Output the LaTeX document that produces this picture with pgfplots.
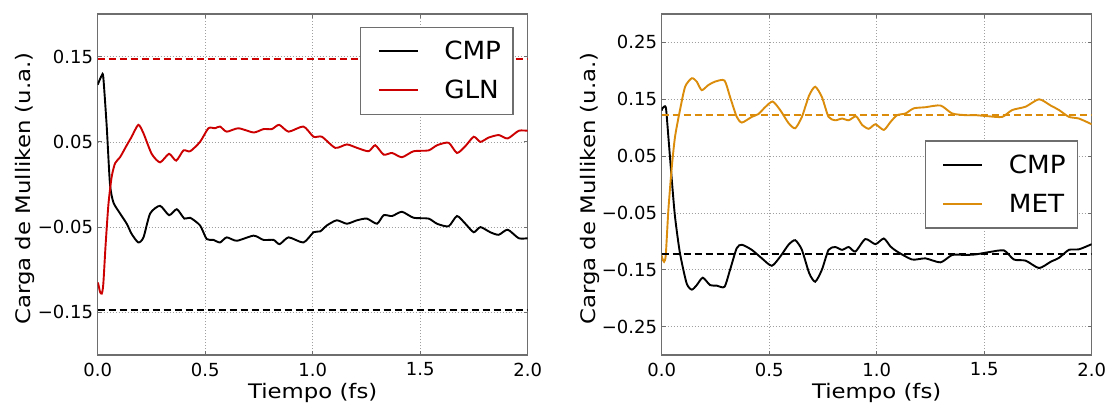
\documentclass[border=0pt]{standalone}
\usepackage{pgfplots}
\pgfplotsset{compat=1.18}
\usepackage{fontspec}
\setmainfont{DejaVu Sans}
\newfontfamily\labfamily[FakeStretch=1.14]{DejaVu Sans}
\newfontfamily\legfamily[FakeStretch=1.05]{DejaVu Sans}
\definecolor{mred}{RGB}{204,0,0}
\definecolor{morange}{RGB}{218,140,10}
\definecolor{frame}{RGB}{110,110,110}
\pgfplotsset{
 myaxis/.style={scale only axis, width=430bp, height=341bp, xmin=0, xmax=2,
  xtick={0,0.5,1,1.5,2}, xticklabels={0.0,0.5,1.0,1.5,2.0},
  grid=major, major grid style={gray!75, line width=0.7bp, dash pattern=on 0.7bp off 2.3bp},
  axis line style={frame, line width=1.3bp},
  tick style={frame, line width=0.8bp},
  tick align=inside, major tick length=4bp,
  ticklabel style={font=\fontsize{18bp}{21bp}\selectfont},
  yticklabel style={inner sep=0bp, xshift=-4.5bp},
  xticklabel style={inner sep=0bp, yshift=-7.5bp},
  label style={font=\labfamily\fontsize{20bp}{24bp}\selectfont},
  xlabel={Tiempo (fs)}, ylabel={Carga de Mulliken (u.a.)},
  xlabel style={at={(axis description cs:0.5,-0.128)}, anchor=base},
  ylabel style={at={(axis description cs:-0.1565,0.488)}, anchor=base},
  legend style={draw=frame, line width=1.3bp, fill=white,
    font=\legfamily\fontsize{25bp}{30bp}\selectfont,
    inner xsep=10bp, inner ysep=10bp, row sep=11bp,
    nodes={inner xsep=2bp, inner ysep=4bp}, column sep=0bp},
  legend cell align=left,
  legend image code/.code={\draw[#1, line width=1.9bp] (0bp,0bp) -- (39bp,0bp); \path[draw=none, fill=none] (-8bp,0bp) -- (63.5bp,0bp);},
 }
}
\begin{document}
\begin{tikzpicture}
\useasboundingbox (-97.7bp,-48bp) rectangle (1009.3bp,355bp);
\begin{axis}[myaxis, ymin=-0.2, ymax=0.2,
  ytick={-0.15,-0.05,0.05,0.15}, yticklabels={−0.15,−0.05,0.05,0.15},
  legend style={at={(0.9675,0.963)}, anchor=north east}]
\addplot[black, line width=1.9bp, smooth, tension=0.4] coordinates {
(0.0,0.117)(0.003,0.119)(0.019,0.128)(0.026,0.126)(0.042,0.068)(0.057,0.001)(0.073,-0.021)(0.104,-0.034)(0.135,-0.046)(0.158,-0.058)(0.189,-0.068)(0.213,-0.062)(0.244,-0.034)(0.290,-0.025)(0.332,-0.036)(0.368,-0.029)(0.403,-0.040)(0.430,-0.039)(0.476,-0.048)(0.507,-0.064)(0.538,-0.065)(0.569,-0.068)(0.600,-0.062)(0.647,-0.066)(0.725,-0.060)(0.771,-0.065)(0.818,-0.065)(0.846,-0.070)(0.888,-0.062)(0.957,-0.068)(1.004,-0.056)(1.035,-0.055)(1.066,-0.048)(1.112,-0.042)(1.159,-0.046)(1.206,-0.042)(1.252,-0.040)(1.299,-0.046)(1.330,-0.036)(1.369,-0.037)(1.415,-0.032)(1.469,-0.039)(1.539,-0.040)(1.578,-0.046)(1.632,-0.049)(1.671,-0.037)(1.710,-0.046)(1.749,-0.056)(1.780,-0.050)(1.826,-0.056)(1.865,-0.059)(1.907,-0.053)(1.958,-0.063)(2.0,-0.063)};
\addlegendentry{CMP}
\addplot[mred, line width=1.9bp, smooth, tension=0.4] coordinates {
(0.0,-0.115)(0.003,-0.117)(0.011,-0.126)(0.019,-0.128)(0.026,-0.117)(0.037,-0.070)(0.050,-0.023)(0.065,0.009)(0.081,0.025)(0.104,0.032)(0.135,0.046)(0.158,0.056)(0.189,0.070)(0.213,0.060)(0.251,0.036)(0.290,0.026)(0.332,0.036)(0.365,0.028)(0.399,0.040)(0.430,0.039)(0.476,0.050)(0.515,0.066)(0.546,0.066)(0.569,0.068)(0.600,0.062)(0.655,0.066)(0.725,0.061)(0.771,0.065)(0.810,0.065)(0.844,0.070)(0.888,0.062)(0.957,0.068)(1.004,0.056)(1.043,0.056)(1.105,0.043)(1.159,0.047)(1.206,0.043)(1.260,0.039)(1.291,0.046)(1.330,0.035)(1.369,0.037)(1.415,0.032)(1.469,0.039)(1.539,0.040)(1.578,0.046)(1.632,0.049)(1.671,0.037)(1.710,0.045)(1.749,0.056)(1.780,0.050)(1.818,0.055)(1.865,0.058)(1.907,0.054)(1.958,0.063)(2.0,0.063)};
\addlegendentry{GLN}
\addplot[mred, line width=1.9bp, dash pattern=on 7bp off 4bp, forget plot] coordinates {(0,0.147)(2,0.147)};
\addplot[black, line width=1.9bp, dash pattern=on 7bp off 4bp, forget plot] coordinates {(0,-0.147)(2,-0.147)};
\end{axis}
\begin{axis}[myaxis, at={(564bp,0bp)}, ymin=-0.3, ymax=0.3,
  ytick={-0.25,-0.15,-0.05,0.05,0.15,0.25}, yticklabels={−0.25,−0.15,−0.05,0.05,0.15,0.25},
  ylabel style={at={(axis description cs:-0.155,0.488)}},
  legend style={at={(0.969,0.5)}, anchor=east}]
\addplot[black, line width=1.9bp, smooth, tension=0.4] coordinates {
(0.0,0.130)(0.003,0.134)(0.011,0.137)(0.020,0.134)(0.031,0.084)(0.047,0.008)(0.062,-0.057)(0.085,-0.121)(0.116,-0.174)(0.140,-0.185)(0.163,-0.177)(0.191,-0.164)(0.225,-0.177)(0.256,-0.178)(0.292,-0.180)(0.318,-0.150)(0.349,-0.112)(0.373,-0.106)(0.419,-0.115)(0.466,-0.130)(0.512,-0.143)(0.551,-0.127)(0.590,-0.106)(0.621,-0.098)(0.652,-0.115)(0.686,-0.156)(0.714,-0.171)(0.745,-0.150)(0.776,-0.115)(0.807,-0.110)(0.839,-0.115)(0.870,-0.110)(0.901,-0.118)(0.947,-0.096)(0.994,-0.105)(1.033,-0.095)(1.064,-0.109)(1.095,-0.118)(1.165,-0.132)(1.227,-0.130)(1.297,-0.137)(1.351,-0.124)(1.413,-0.124)(1.460,-0.123)(1.522,-0.119)(1.592,-0.116)(1.638,-0.132)(1.693,-0.134)(1.755,-0.147)(1.809,-0.136)(1.848,-0.129)(1.894,-0.115)(1.941,-0.114)(2.0,-0.105)};
\addlegendentry{CMP}
\addplot[morange, line width=1.9bp, smooth, tension=0.4] coordinates {
(0.0,-0.125)(0.003,-0.130)(0.011,-0.136)(0.019,-0.124)(0.031,-0.045)(0.047,0.031)(0.062,0.084)(0.085,0.131)(0.109,0.172)(0.140,0.187)(0.163,0.181)(0.186,0.166)(0.217,0.175)(0.248,0.181)(0.292,0.183)(0.318,0.154)(0.349,0.119)(0.373,0.109)(0.419,0.119)(0.450,0.124)(0.481,0.136)(0.516,0.146)(0.551,0.131)(0.590,0.108)(0.621,0.099)(0.652,0.119)(0.686,0.157)(0.714,0.172)(0.745,0.154)(0.776,0.119)(0.807,0.113)(0.839,0.116)(0.870,0.113)(0.904,0.120)(0.932,0.105)(0.963,0.098)(0.994,0.106)(1.033,0.096)(1.064,0.110)(1.095,0.122)(1.134,0.125)(1.172,0.134)(1.227,0.136)(1.297,0.139)(1.351,0.125)(1.413,0.122)(1.460,0.122)(1.522,0.120)(1.584,0.119)(1.630,0.131)(1.693,0.137)(1.755,0.150)(1.809,0.139)(1.848,0.131)(1.894,0.119)(1.941,0.116)(2.0,0.106)};
\addlegendentry{MET}
\addplot[morange, line width=1.9bp, dash pattern=on 7bp off 4bp, forget plot] coordinates {(0,0.122)(2,0.122)};
\addplot[black, line width=1.9bp, dash pattern=on 7bp off 4bp, forget plot] coordinates {(0,-0.122)(2,-0.122)};
\end{axis}
\end{tikzpicture}
\end{document}
